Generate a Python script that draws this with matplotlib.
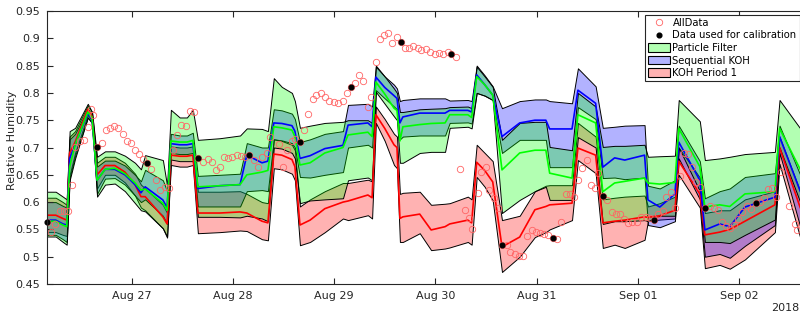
import datetime as dt

import matplotlib
matplotlib.use("Agg")
import matplotlib.dates as mdates
import matplotlib.pyplot as plt
import numpy as np
from matplotlib.lines import Line2D
from matplotlib.patches import Patch

START = dt.datetime(2018, 8, 26)

# time of band samples, hours since Aug 26 00:00
hours = [3.9, 6.0, 7.7, 8.6, 9.3, 10.6, 13.6, 14.6, 15.8, 17.7,
         20.0, 22.4, 24.8, 26.2, 27.2, 31.4, 32.4, 33.3, 35.4, 37.1,
         38.5, 39.7, 44.9, 49.7, 51.3, 54.9, 56.3, 57.7, 59.6, 62.0,
         62.7, 63.9, 66.3, 69.8, 74.1, 75.3, 80.0, 81.0, 81.9, 84.0,
         86.2, 86.9, 87.6, 88.3, 92.3, 95.0, 98.3, 99.4, 103.7, 104.6,
         105.8, 107.7, 109.6, 111.8, 116.0, 119.6, 122.2, 123.1, 128.4, 129.8,
         134.0, 135.7, 138.5, 140.9, 145.6, 146.4, 149.2, 152.8, 153.7, 158.7,
         159.9, 163.4, 165.8, 169.4, 176.5, 177.6, 182.5]

# Particle Filter
pf_lo = [.537, .537, .527, .522, .640, .680, .755, .745, .610, .632,
         .634, .620, .598, .585, .583, .552, .537, .678, .675, .675,
         .675, .573, .573, .572, .575, .570, .565, .700, .698, .690,
         .680, .598, .603, .605, .607, .640, .645, .640, .802, .780,
         .757, .750, .672, .672, .690, .692, .692, .736, .738, .735,
         .800, .795, .787, .580, .604, .620, .628, .604, .604, .719,
         .700, .560, .565, .565, .567, .565, .575, .575, .700, .620,
         .527, .527, .525, .540, .568, .700, .600]
pf_mid = [.565, .565, .558, .555, .665, .705, .765, .755, .640, .660,
          .662, .652, .635, .622, .624, .598, .585, .712, .710, .710,
          .713, .628, .630, .632, .650, .655, .658, .738, .736, .732,
          .720, .668, .672, .690, .700, .723, .728, .720, .820, .798,
          .772, .768, .712, .738, .742, .744, .745, .760, .760, .755,
          .830, .815, .796, .659, .690, .695, .695, .653, .644, .760,
          .745, .619, .635, .638, .644, .635, .633, .636, .735, .665,
          .591, .595, .592, .615, .619, .735, .660]
pf_hi = [.619, .619, .610, .605, .730, .736, .780, .765, .683, .693,
         .693, .685, .672, .660, .686, .677, .630, .769, .755, .755,
         .769, .714, .717, .722, .735, .734, .730, .827, .811, .800,
         .785, .736, .740, .745, .747, .750, .750, .745, .848, .830,
         .808, .800, .765, .765, .770, .771, .772, .774, .775, .772,
         .848, .830, .811, .714, .745, .747, .747, .701, .695, .800,
         .775, .701, .703, .703, .705, .683, .684, .685, .787, .748,
         .677, .680, .683, .688, .692, .787, .735]

# Sequential KOH
seq_lo = [.540, .540, .532, .527, .645, .685, .755, .745, .615, .643,
          .644, .632, .612, .600, .605, .575, .560, .690, .688, .688,
          .690, .592, .592, .592, .620, .622, .620, .715, .713, .708,
          .700, .646, .645, .650, .655, .700, .705, .700, .805, .790,
          .775, .770, .715, .720, .722, .722, .722, .745, .746, .744,
          .800, .795, .787, .690, .714, .714, .714, .664, .664, .774,
          .752, .644, .645, .642, .645, .558, .554, .565, .680, .605,
          .500, .505, .498, .520, .558, .690, .555]
seq_mid = [.567, .567, .560, .558, .680, .705, .763, .752, .640, .660,
           .660, .650, .632, .617, .628, .604, .590, .707, .705, .705,
           .707, .625, .630, .632, .686, .672, .675, .745, .744, .740,
           .730, .680, .685, .698, .704, .741, .745, .738, .829, .810,
           .795, .790, .745, .756, .763, .763, .763, .768, .768, .765,
           .833, .815, .796, .720, .745, .750, .750, .734, .734, .805,
           .781, .664, .681, .677, .686, .604, .591, .615, .710, .640,
           .549, .560, .555, .591, .609, .720, .620]
seq_hi = [.600, .600, .593, .590, .715, .725, .771, .760, .665, .676,
          .676, .667, .650, .638, .659, .640, .620, .725, .722, .722,
          .727, .648, .650, .652, .708, .700, .700, .770, .768, .762,
          .752, .710, .715, .725, .730, .778, .780, .775, .850, .830,
          .815, .808, .785, .787, .790, .790, .790, .786, .787, .785,
          .850, .832, .812, .772, .785, .788, .788, .785, .781, .845,
          .812, .736, .738, .740, .741, .630, .625, .640, .740, .675,
          .607, .620, .625, .646, .653, .740, .650]

# KOH Period 1
koh_lo = [.545, .545, .540, .538, .650, .690, .760, .748, .625, .650,
          .650, .636, .612, .590, .585, .552, .535, .668, .665, .665,
          .668, .543, .545, .548, .547, .532, .530, .662, .660, .652,
          .640, .521, .527, .545, .570, .567, .576, .570, .745, .712,
          .668, .662, .527, .527, .543, .512, .515, .517, .527, .522,
          .646, .628, .603, .472, .500, .536, .545, .550, .567, .677,
          .653, .516, .522, .516, .531, .565, .568, .570, .650, .590,
          .479, .485, .478, .495, .545, .670, .535]
koh_mid = [.576, .576, .570, .567, .690, .710, .770, .757, .650, .667,
           .667, .655, .632, .610, .610, .573, .560, .686, .684, .684,
           .686, .580, .580, .582, .580, .565, .562, .688, .686, .678,
           .665, .558, .567, .588, .600, .602, .613, .608, .760, .735,
           .705, .700, .570, .573, .578, .549, .555, .560, .567, .562,
           .673, .658, .637, .518, .536, .586, .592, .595, .598, .699,
           .686, .562, .565, .567, .573, .572, .575, .585, .675, .615,
           .540, .545, .550, .565, .595, .700, .590]
koh_hi = [.608, .608, .600, .595, .720, .730, .777, .765, .672, .683,
          .683, .672, .652, .632, .625, .595, .580, .702, .700, .700,
          .702, .619, .619, .620, .615, .600, .598, .715, .712, .705,
          .695, .592, .605, .620, .635, .635, .641, .638, .775, .752,
          .725, .720, .615, .617, .619, .595, .597, .598, .610, .605,
          .705, .690, .675, .567, .575, .620, .630, .631, .631, .745,
          .720, .605, .608, .610, .612, .592, .598, .610, .700, .645,
          .580, .585, .585, .605, .620, .720, .620]

# measurements
all_hours = [3.9, 4.9, 5.8, 6.9, 7.9, 8.8, 9.8, 10.6, 11.7, 12.8,
             13.7, 14.3, 14.8, 15.9, 16.9, 17.9, 18.9, 19.9, 20.8, 21.9,
             22.8, 23.8, 24.8, 25.8, 26.7, 27.7, 28.7, 29.8, 30.8, 31.9,
             32.9, 33.9, 34.8, 35.8, 37.0, 37.8, 38.8, 39.8, 41.0, 42.0,
             43.0, 43.9, 44.9, 45.9, 46.9, 47.9, 48.9, 49.9, 50.9, 51.9,
             52.9, 53.9, 55.0, 56.0, 56.9, 59.0, 59.9, 60.9, 61.9, 62.7,
             63.9, 64.8, 65.9, 66.9, 67.8, 68.9, 69.8, 70.8, 71.9, 73.0,
             74.0, 75.0, 75.9, 76.9, 77.9, 78.9, 80.0, 80.8, 81.9, 82.8,
             83.9, 84.8, 85.8, 86.8, 87.8, 88.8, 89.8, 90.7, 91.8, 92.7,
             93.8, 94.8, 95.8, 96.8, 97.8, 98.9, 99.8, 100.9, 101.8, 103.0,
             103.9, 104.6, 106.0, 106.9, 107.9, 108.7, 109.9, 110.8, 111.9, 112.9,
             113.8, 114.8, 115.8, 116.7, 117.8, 118.9, 119.9, 120.9, 121.8, 122.8,
             123.8, 124.9, 125.9, 126.9, 127.9, 128.8, 129.8, 130.8, 131.9, 132.8,
             133.8, 134.6, 135.8, 136.8, 137.8, 138.8, 139.7, 140.8, 141.7, 142.7,
             143.7, 144.7, 145.9, 146.8, 147.9, 148.9, 149.9, 150.8, 151.8, 152.8,
             153.9, 154.9, 155.9, 156.9, 157.7, 158.7, 159.9, 161.1, 162.0, 163.0,
             163.9, 164.9, 165.8, 166.8, 167.8, 168.8, 169.8, 170.9, 172.0, 172.9,
             173.8, 174.9, 175.8, 176.8, 178.0, 179.8, 181.2, 181.7]
all_rh = [.564, .546, .560, .583, .584, .584, .632, .701, .711, .714,
          .738, .770, .760, .701, .708, .732, .735, .740, .735, .725,
          .712, .709, .696, .688, .679, .672, .661, .640, .622, .627,
          .625, .695, .723, .741, .740, .767, .765, .680, .674, .679,
          .673, .659, .664, .683, .680, .682, .687, .684, .683, .686,
          .677, .665, .683, .690, .720, .707, .665, .695, .712, .715,
          .710, .732, .762, .789, .797, .799, .793, .786, .784, .781,
          .786, .800, .811, .819, .833, .822, .775, .793, .857, .898,
          .906, .910, .892, .902, .894, .883, .882, .886, .882, .879,
          .880, .875, .872, .873, .871, .874, .871, .866, .661, .586,
          .571, .550, .617, .656, .664, .622, .607, .590, .521, .521,
          .509, .505, .502, .501, .537, .549, .546, .543, .541, .540,
          .535, .532, .564, .615, .614, .610, .640, .663, .677, .631,
          .625, .653, .612, .604, .581, .578, .578, .569, .562, .563,
          .563, .572, .572, .570, .567, .578, .584, .610, .619, .589,
          .647, .690, .689, .665, .637, .628, .590, .592, .590, .585,
          .563, .556, .553, .558, .569, .581, .592, .587, .598, .600,
          .607, .624, .626, .610, .656, .592, .560, .549]

calib_hours = [3.9, 15.9, 27.7, 39.8, 51.9, 63.9, 75.9, 87.8, 99.8, 111.9,
               123.8, 135.8, 147.9, 159.9, 172.0]
calib_rh = [.564, .701, .672, .680, .686, .710, .811, .894, .871, .521,
            .535, .612, .567, .590, .598]


def to_dates(h):
    return mdates.date2num(START) + np.asarray(h) / 24.0


TXT = "#262626"
RED_O = "#ff6464"
plt.rcParams["font.family"] = ["DejaVu Sans"]
plt.rcParams["font.size"] = 8

fig = plt.figure(figsize=(8.0, 3.16), dpi=100)
ax = fig.add_axes([47 / 800, 32 / 316, 753 / 800, 273 / 316])

t = to_dates(hours)
bands = [
    (koh_lo, koh_mid, koh_hi, (1, 0, 0)),
    (seq_lo, seq_mid, seq_hi, (0, 0, 1)),
    (pf_lo, pf_mid, pf_hi, (0, 1, 0)),
]
for lo, mid, hi, c in bands:
    ax.fill_between(t, lo, hi, facecolor=c + (0.3,), edgecolor="black",
                    linewidth=0.7)
    ax.plot(t, mid, color=c, lw=1.2)

ax.plot(to_dates(all_hours), all_rh, "o", ms=4.6, mfc="none", mec=RED_O,
        mew=0.6)
ax.plot(to_dates(calib_hours), calib_rh, "o", ms=3.4, color="black",
        clip_on=False)

ax.set_ylim(0.45, 0.95)
ax.set_yticks(np.arange(0.45, 0.951, 0.05))
ax.yaxis.set_major_formatter(plt.FuncFormatter(lambda v, p: "%g" % round(v, 2)))
ax.set_xlim(to_dates([3.93])[0], to_dates([182.45])[0])
ax.xaxis.set_major_locator(mdates.DayLocator())
ax.xaxis.set_major_formatter(mdates.DateFormatter("%b %d"))

ax.tick_params(direction="in", top=True, right=False, length=4, width=0.8,
               colors=TXT, labelsize=8, pad=5)
for s in ["left", "top", "bottom"]:
    ax.spines[s].set_color(TXT)
    ax.spines[s].set_linewidth(0.8)
ax.spines["right"].set_visible(False)

fig.text(12 / 800, 1 - 140 / 316, "Relative Humidity", rotation=90,
         ha="center", va="center", color=TXT, fontsize=8)
fig.text(0.999, 1 - 308 / 316, "2018", ha="right", va="center",
         color=TXT, fontsize=8)

handles = [
    Line2D([], [], ls="none", marker="o", ms=4.6, mfc="none", mec=RED_O,
           mew=0.6),
    Line2D([], [], ls="none", marker="o", ms=3.4, color="black"),
    Patch(facecolor=(0, 1, 0, 0.3), edgecolor="black", lw=0.8),
    Patch(facecolor=(0, 0, 1, 0.3), edgecolor="black", lw=0.8),
    Patch(facecolor=(1, 0, 0, 0.3), edgecolor="black", lw=0.8),
]
labels = ["AllData", "Data used for calibration", "Particle Filter",
          "Sequential KOH", "KOH Period 1"]
leg = fig.legend(handles, labels, loc="upper left",
                 bbox_to_anchor=(645 / 800, 1 - 15 / 316), fontsize=7.2,
                 frameon=True, fancybox=False, framealpha=1,
                 edgecolor=TXT, handlelength=2.2, handleheight=0.9,
                 handletextpad=0.25, labelspacing=0.25, borderpad=0.3,
                 borderaxespad=0)
leg.get_frame().set_linewidth(0.8)

fig.savefig("out.png", dpi=100)
